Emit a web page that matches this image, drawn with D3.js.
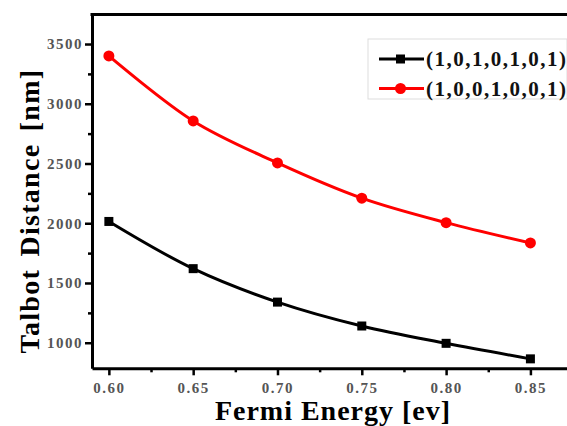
<!DOCTYPE html>
<html>
<head>
<meta charset="utf-8">
<script src="https://cdn.jsdelivr.net/npm/d3@7"></script>
<style>
  body { margin: 0; background: #fff; }
  .tick text { font-family: 'Liberation Serif', 'Times New Roman', serif; font-weight: bold; fill: #555; letter-spacing: 1.5px; }
  .serif { font-family: 'Liberation Serif', 'Times New Roman', serif; font-weight: bold; }
</style>
</head>
<body>
<div id="chart"></div>
<script>
var svgWidth = 567;
var svgHeight = 426;

// data
var energy = [0.60, 0.65, 0.70, 0.75, 0.80, 0.85];
var seriesA = [2015, 1620, 1340, 1140, 995, 865];   // (1,0,1,0,1,0,1)
var seriesB = [3400, 2856, 2505, 2210, 2005, 1835]; // (1,0,0,1,0,0,1)
var seriesNames = ["(1,0,1,0,1,0,1)", "(1,0,0,1,0,0,1)"];
var xTicks = [0.60, 0.65, 0.70, 0.75, 0.80, 0.85];
var yTicks = [1000, 1500, 2000, 2500, 3000, 3500];

var margin = { top: 14.5, left: 92, bottom: 57.7 };
var height = svgHeight - margin.top - margin.bottom;
var width = 489;   // right edge falls outside the picture

var svg = d3.select("#chart")
    .append("svg")
    .attr("width", svgWidth)
    .attr("height", svgHeight);

var chartGroup = svg.append("g")
    .attr("transform", `translate(${margin.left}, ${margin.top})`);

var xScale = d3.scaleLinear().domain([0.59, 0.88]).range([0, width]);
var yScale = d3.scaleLinear().domain([786, 3747]).range([height, 0]);

// minor ticks
var xMinor = [0.625, 0.675, 0.725, 0.775, 0.825, 0.875];
var yMinor = [1250, 1750, 2250, 2750, 3250];

chartGroup.append("g")
    .attr("transform", `translate(0, ${height})`)
    .call(d3.axisBottom(xScale).tickValues(xMinor).tickSize(4).tickFormat(""))
    .call(g => g.select(".domain").remove())
    .selectAll("line").attr("stroke-width", 2.5);

chartGroup.append("g")
    .call(d3.axisLeft(yScale).tickValues(yMinor).tickSize(4).tickFormat(""))
    .call(g => g.select(".domain").remove())
    .selectAll("line").attr("stroke-width", 2.5);

var bottomAxis = chartGroup.append("g")
    .attr("transform", `translate(0, ${height})`)
    .call(d3.axisBottom(xScale).tickValues(xTicks).tickSize(7).tickSizeOuter(0).tickPadding(7).tickFormat(d3.format(".2f")));
bottomAxis.selectAll("text").attr("font-size", 15);

var leftAxis = chartGroup.append("g")
    .call(d3.axisLeft(yScale).tickValues(yTicks).tickSize(7).tickSizeOuter(0).tickPadding(2).tickFormat(d3.format("d")));
leftAxis.selectAll("text").attr("font-size", 15);

[bottomAxis, leftAxis].forEach(function(ax) {
    ax.select(".domain").attr("stroke-width", 3);
    ax.selectAll(".tick line").attr("stroke-width", 2.5);
});

// top frame line
chartGroup.append("line")
    .attr("x1", -1.5).attr("x2", width)
    .attr("y1", 0).attr("y2", 0)
    .attr("stroke", "#000")
    .attr("stroke-width", 3);

var line = d3.line()
    .x((d, i) => xScale(energy[i]))
    .y(d => yScale(d))
    .curve(d3.curveCatmullRom);

chartGroup.append("path")
    .datum(seriesA)
    .attr("fill", "none")
    .attr("stroke", "#000")
    .attr("stroke-width", 3)
    .attr("d", line);

chartGroup.append("path")
    .datum(seriesB)
    .attr("fill", "none")
    .attr("stroke", "#ff0000")
    .attr("stroke-width", 3)
    .attr("d", line);

chartGroup.selectAll("rect.markA")
    .data(seriesA)
    .enter()
    .append("rect")
    .attr("class", "markA")
    .attr("x", (d, i) => xScale(energy[i]) - 4.5)
    .attr("y", d => yScale(d) - 4.5)
    .attr("width", 9)
    .attr("height", 9)
    .attr("fill", "#000");

chartGroup.selectAll("circle.markB")
    .data(seriesB)
    .enter()
    .append("circle")
    .attr("class", "markB")
    .attr("cx", (d, i) => xScale(energy[i]))
    .attr("cy", d => yScale(d))
    .attr("r", 5.5)
    .attr("fill", "#ff0000");

// legend
var legend = svg.append("g").attr("transform", "translate(368, 39)");
legend.append("rect")
    .attr("width", 199).attr("height", 60)
    .attr("fill", "#fff")
    .attr("stroke", "#ddd");

var legendColors = ["#000", "#ff0000"];
seriesNames.forEach(function(name, i) {
    var y = 20 + i * 29.5;
    legend.append("line")
        .attr("x1", 11).attr("x2", 56)
        .attr("y1", y).attr("y2", y)
        .attr("stroke", legendColors[i])
        .attr("stroke-width", 3);
    if (i === 0) {
        legend.append("rect")
            .attr("x", 28).attr("y", y - 4.5)
            .attr("width", 9).attr("height", 9)
            .attr("fill", "#000");
    } else {
        legend.append("circle")
            .attr("cx", 32.5).attr("cy", y).attr("r", 5.5)
            .attr("fill", "#ff0000");
    }
    legend.append("text")
        .attr("class", "serif")
        .attr("x", 58)
        .attr("y", y + 7)
        .attr("font-size", 21)
        .attr("letter-spacing", 1.5)
        .attr("fill", "#111")
        .text(name);
});

// axis titles
svg.append("text")
    .attr("class", "serif")
    .attr("x", 333)
    .attr("y", 420)
    .attr("text-anchor", "middle")
    .attr("font-size", 28)
    .attr("letter-spacing", 1)
    .text("Fermi Energy [ev]");

svg.append("text")
    .attr("class", "serif")
    .attr("transform", "translate(39, 211) rotate(-90)")
    .attr("text-anchor", "middle")
    .attr("font-size", 28)
    .attr("letter-spacing", 1.3)
    .attr("word-spacing", 4)
    .text("Talbot Distance [nm]");
</script>
</body>
</html>
